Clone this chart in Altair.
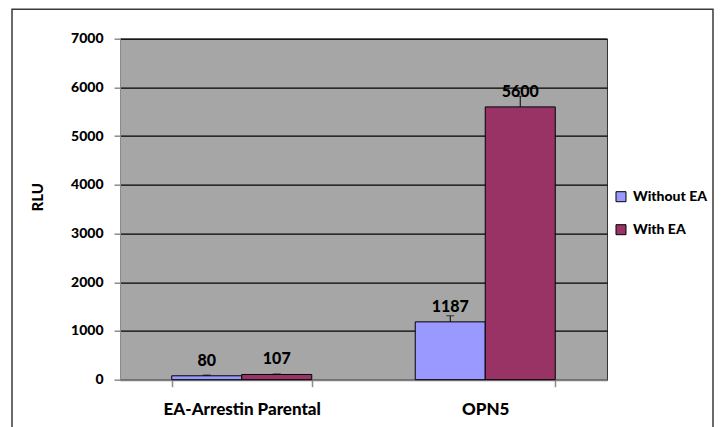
import altair as alt
import pandas as pd

categories = ["EA-Arrestin Parental", "OPN5"]
series = ["Without EA", "With EA"]
without_ea = [80, 1187]
with_ea = [107, 5600]
without_err = [15, 125]
with_err = [10, 220]
y_ticks = [0, 1000, 2000, 3000, 4000, 5000, 6000, 7000]
colors = ["#9999FF", "#993366"]

rows = []
for i, c in enumerate(categories):
    rows.append({"cat": c, "series": series[0], "value": without_ea[i], "err": without_err[i]})
    rows.append({"cat": c, "series": series[1], "value": with_ea[i], "err": with_err[i]})
df = pd.DataFrame(rows)
df["top"] = df["value"] + df["err"]

FONT = "Lato"
W = 900

x_enc = alt.X("cat:N", sort=categories, title=None,
              scale=alt.Scale(paddingInner=0.425, paddingOuter=0.2125),
              axis=alt.Axis(labelAngle=0, labelFontSize=17, labelFontWeight=W,
                            labelColor="#000000", labelFont=FONT, labelPadding=15,
                            tickSize=7, tickColor="#8c8c8c", tickWidth=1.5,
                            tickBand="extent",
                            domainColor="#808080", domainWidth=2, grid=False))
xo_enc = alt.XOffset("series:N", sort=series, scale=alt.Scale(paddingInner=0, paddingOuter=0))
y_scale = alt.Scale(domain=[0, 7000], nice=False)

base = alt.Chart(df)

bars = base.mark_bar(stroke="#000000", strokeWidth=1).encode(
    x=x_enc,
    xOffset=xo_enc,
    y=alt.Y("value:Q", scale=y_scale, title="RLU",
            axis=alt.Axis(values=y_ticks, format="d", labelFontSize=14, labelFontWeight=W,
                          labelFont=FONT, labelColor="#000000", labelPadding=11,
                          tickSize=6, tickColor="#8c8c8c", tickWidth=1.5,
                          domainColor="#8c8c8c", domainWidth=1,
                          gridColor="#000000", gridWidth=1.3,
                          titleFont=FONT, titleFontSize=15, titleFontWeight=W,
                          titleColor="#000000", titleAngle=-90, titleX=-83, titleY=158,
                          titleAlign="center", titleBaseline="middle")),
    color=alt.Color("series:N", sort=series,
                    scale=alt.Scale(domain=series, range=colors),
                    legend=alt.Legend(title=None, orient="none", legendX=494, legendY=151,
                                      symbolType="square", symbolSize=100,
                                      symbolStrokeColor="#000000", symbolStrokeWidth=1,
                                      symbolOpacity=1,
                                      labelFont=FONT, labelFontSize=14, labelFontWeight=W,
                                      labelColor="#000000", rowPadding=19, labelOffset=5)),
)

err_rule = base.mark_rule(color="#000000", strokeWidth=1).encode(
    x=alt.X("cat:N", sort=categories), xOffset=alt.XOffset("series:N", sort=series),
    y=alt.Y("value:Q", scale=y_scale), y2="top:Q")

err_cap = base.mark_tick(color="#000000", thickness=1, size=8, orient="horizontal").encode(
    x=alt.X("cat:N", sort=categories), xOffset=alt.XOffset("series:N", sort=series),
    y=alt.Y("top:Q", scale=y_scale))

labels = base.mark_text(font=FONT, fontSize=16, fontWeight=W, color="#000000",
                        baseline="alphabetic", dy=-10).encode(
    x=alt.X("cat:N", sort=categories), xOffset=alt.XOffset("series:N", sort=series),
    y=alt.Y("value:Q", scale=y_scale), text=alt.Text("value:Q", format="d"))

frame = alt.Chart(pd.DataFrame({"k": [0]})).mark_rect(
    fill=None, stroke="#3a3a3a", strokeWidth=1.5, clip=False).encode(
    x=alt.value(-108), x2=alt.value(593), y=alt.value(-29.5), y2=alt.value(430))

chart = alt.layer(frame, bars, err_rule, err_cap, labels).properties(
    width=487, height=341,
    autosize=alt.AutoSizeParams(type="none"),
    padding={"left": 112, "top": 30.7, "right": 107, "bottom": 47},
    background="#ffffff",
).configure_view(fill="#A6A6A6", stroke="#333333", strokeWidth=1)

chart.save("out.html", embed_options={"renderer": "svg", "actions": False})
